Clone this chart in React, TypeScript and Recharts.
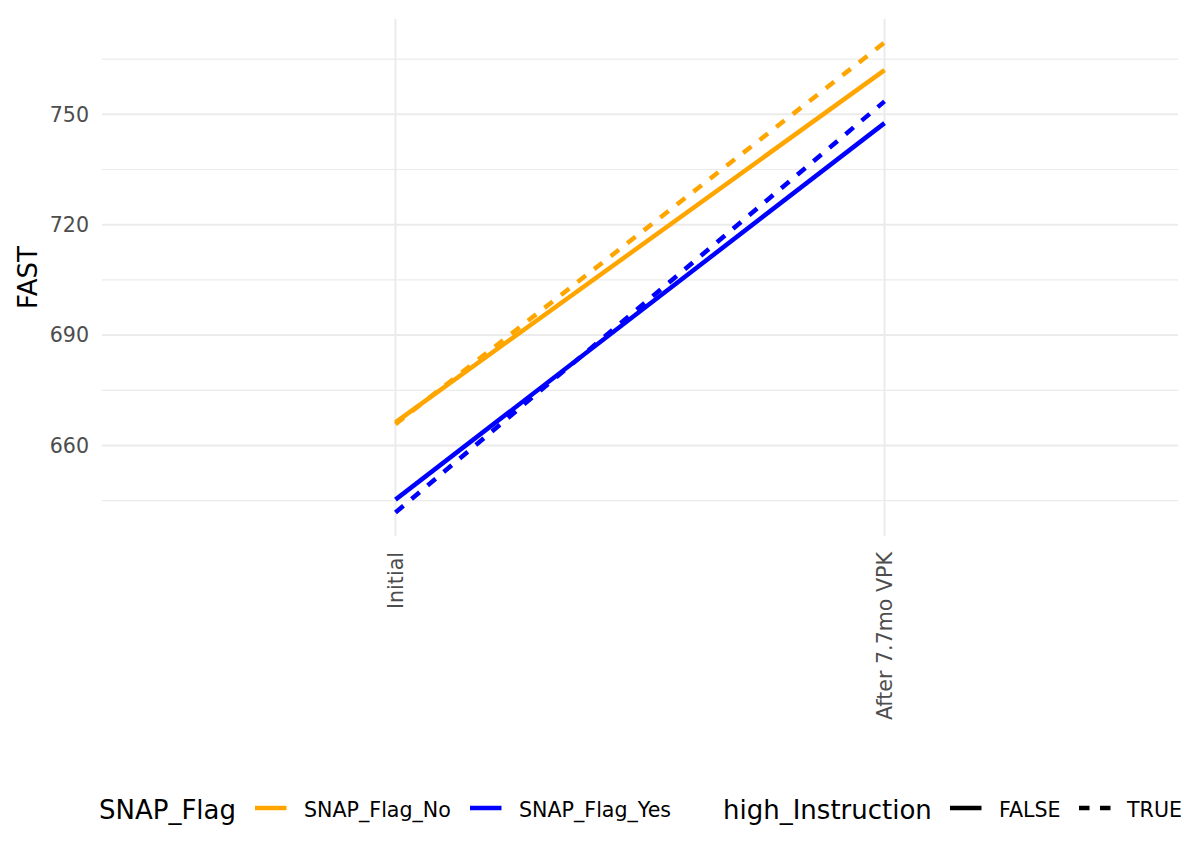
import React from 'react';
import { LineChart, Line, XAxis, YAxis, CartesianGrid, ReferenceLine, Legend } from 'recharts';

const categories = ['Initial', 'After 7.7mo VPK'];
const snapNoFalse = [666.3, 762.0];
const snapNoTrue = [665.8, 769.5];
const snapYesFalse = [645.3, 747.6];
const snapYesTrue = [641.8, 753.5];
const yTicks = [660, 690, 720, 750];
const yMinorTicks = [645, 675, 705, 735, 765];
const xPositions = [1, 2];

const ORANGE = '#FFA500';
const BLUE = '#0000FF';
const FONT = 'DejaVu Sans';
const TICK_SIZE = 20.6;
const TITLE_SIZE = 26;
const LINE_W = 4.5;

const data = categories.map((c, i) => ({
  pos: xPositions[i],
  label: c,
  noF: snapNoFalse[i],
  noT: snapNoTrue[i],
  yesF: snapYesFalse[i],
  yesT: snapYesTrue[i],
}));

const XTick = (props: any) => {
  const { x, y, payload } = props;
  const idx = xPositions.indexOf(payload.value);
  return (
    <text
      x={x}
      y={y}
      transform={`rotate(-90 ${x} ${y})`}
      textAnchor="end"
      dy="0.36em"
      fill="#4D4D4D"
      fontSize={TICK_SIZE}
      fontFamily={FONT}
    >
      {categories[idx]}
    </text>
  );
};

const YTitle = (props: any) => {
  const { viewBox } = props;
  const cx = viewBox.x + 28;
  const cy = viewBox.y + viewBox.height / 2;
  return (
    <text
      x={cx}
      y={cy}
      transform={`rotate(-90 ${cx} ${cy})`}
      textAnchor="middle"
      dominantBaseline="central"
      fill="#000"
      fontSize={TITLE_SIZE}
      fontFamily={FONT}
    >
      FAST
    </text>
  );
};

const KeyLine = ({ color, dashed }: { color: string; dashed?: boolean }) => (
  <svg width={32} height={40} style={{ position: 'absolute', top: 0, left: 0 }}>
    <line x1={0} y1={18} x2={31.5} y2={18} stroke={color} strokeWidth={LINE_W} strokeDasharray={dashed ? '10.5 10.5' : undefined} />
  </svg>
);

const legendItem = (left: number, child: React.ReactNode, key: string) => (
  <div key={key} style={{ position: 'absolute', left, top: 0, height: 40 }}>{child}</div>
);

const textEl = (s: string, size: number) => (
  <span style={{ fontFamily: FONT, fontSize: size, lineHeight: '40px', color: '#000', whiteSpace: 'nowrap' }}>{s}</span>
);

const LegendContent = () => (
  <div style={{ position: 'relative', width: 1184, height: 40 }}>
    {legendItem(99, textEl('SNAP_Flag', TITLE_SIZE), 't1')}
    {legendItem(255, <KeyLine color={ORANGE} />, 'k1')}
    {legendItem(304, textEl('SNAP_Flag_No', TICK_SIZE), 'l1')}
    {legendItem(470, <KeyLine color={BLUE} />, 'k2')}
    {legendItem(519, textEl('SNAP_Flag_Yes', TICK_SIZE), 'l2')}
    {legendItem(723, textEl('high_Instruction', TITLE_SIZE), 't2')}
    {legendItem(950, <KeyLine color="#000" />, 'k3')}
    {legendItem(999, textEl('FALSE', TICK_SIZE), 'l3')}
    {legendItem(1079, <KeyLine color="#000" dashed />, 'k4')}
    {legendItem(1127, textEl('TRUE', TICK_SIZE), 'l4')}
  </div>
);

export default function App() {
  return (
    <div style={{ position: 'absolute', left: 0, top: 0, width: 1184, height: 852, background: '#fff' }}>
      <LineChart width={1184} height={852} data={data} margin={{ top: 19, right: 6, bottom: 0, left: 0 }}>
        <CartesianGrid stroke="#EBEBEB" strokeWidth={2} syncWithTicks />
        {yMinorTicks.map((v) => (
          <ReferenceLine key={v} y={v} stroke="#EBEBEB" strokeWidth={1.2} />
        ))}
        <XAxis
          dataKey="pos"
          type="number"
          domain={[0.4, 2.6]}
          ticks={xPositions}
          axisLine={false}
          tickLine={false}
          tickSize={6}
          tickMargin={10}
          height={316}
          tick={<XTick />}
          interval={0}
        />
        <YAxis
          type="number"
          domain={([min, max]: [number, number]) => [min - 0.05 * (max - min), max + 0.05 * (max - min)]}
          ticks={yTicks}
          axisLine={false}
          tickLine={false}
          tickSize={6}
          tickMargin={7}
          width={102}
          tick={{ fill: '#4D4D4D', fontSize: TICK_SIZE, fontFamily: FONT }}
          label={<YTitle />}
          interval={0}
        />
        <Line type="linear" dataKey="noF" stroke={ORANGE} strokeWidth={LINE_W} dot={false} activeDot={false} isAnimationActive={false} />
        <Line type="linear" dataKey="noT" stroke={ORANGE} strokeWidth={LINE_W} strokeDasharray="10.5 10.5" dot={false} activeDot={false} isAnimationActive={false} />
        <Line type="linear" dataKey="yesF" stroke={BLUE} strokeWidth={LINE_W} dot={false} activeDot={false} isAnimationActive={false} />
        <Line type="linear" dataKey="yesT" stroke={BLUE} strokeWidth={LINE_W} strokeDasharray="10.5 10.5" dot={false} activeDot={false} isAnimationActive={false} />
        <Legend
          layout="horizontal"
          verticalAlign="middle"
          align="center"
          wrapperStyle={{ top: 790, left: 0, width: 1184, height: 40 }}
          content={<LegendContent />}
        />
      </LineChart>
    </div>
  );
}
